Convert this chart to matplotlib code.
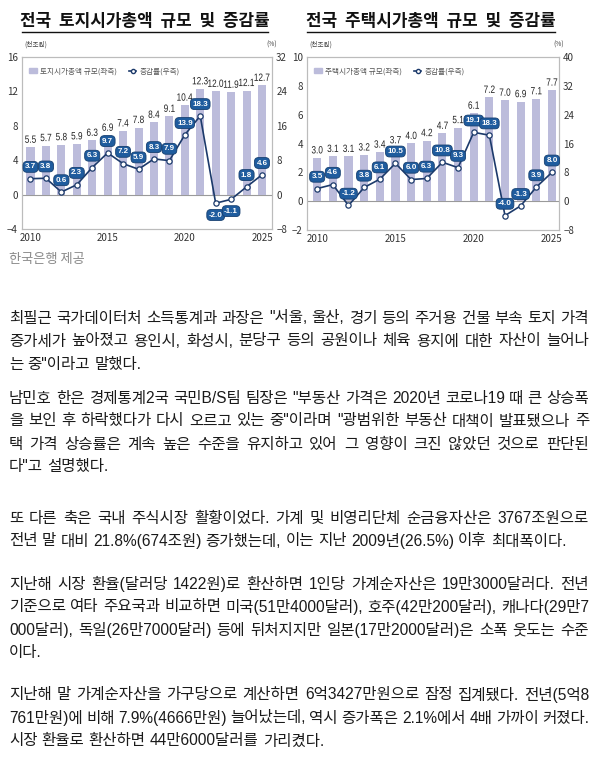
import matplotlib
matplotlib.use('Agg')
import matplotlib.pyplot as plt
import matplotlib.transforms as mtransforms
from matplotlib.lines import Line2D
from matplotlib.patches import Patch, PathPatch
from matplotlib.textpath import TextPath
from matplotlib.font_manager import FontProperties

W, H = 597, 764

# 데이터
years = list(range(2010, 2026))
land_value = [5.5, 5.7, 5.8, 5.9, 6.3, 6.9, 7.4, 7.8, 8.4, 9.1, 10.4, 12.3, 12.0, 11.9, 12.1, 12.7]
land_rate = [3.7, 3.8, 0.6, 2.3, 6.3, 9.7, 7.2, 5.9, 8.3, 7.9, 13.9, 18.3, -2.0, -1.1, 1.8, 4.6]
house_value = [3.0, 3.1, 3.1, 3.2, 3.4, 3.7, 4.0, 4.2, 4.7, 5.1, 6.1, 7.2, 7.0, 6.9, 7.1, 7.7]
house_rate = [3.5, 4.6, -1.2, 3.8, 6.1, 10.5, 6.0, 6.3, 10.8, 9.3, 19.1, 18.3, -4.0, -1.3, 3.9, 8.0]
tick_years = [2010, 2015, 2020, 2025]

land_title = '전국  토지시가총액  규모  및  증감률'
house_title = '전국  주택시가총액  규모  및  증감률'
land_legend = '토지시가총액 규모(좌측)'
house_legend = '주택시가총액 규모(좌측)'
rate_legend = '증감률(우측)'
source = '한국은행 제공'

paragraphs = [
    ['최필근 국가데이터처 소득통계과 과장은 "서울, 울산, 경기 등의 주거용 건물 부속 토지 가격',
     '증가세가 높아졌고 용인시, 화성시, 분당구 등의 공원이나 체육 용지에 대한 자산이 늘어나',
     '는 중"이라고 말했다.'],
    ['남민호 한은 경제통계2국 국민B/S팀 팀장은 "부동산 가격은 2020년 코로나19 때 큰 상승폭',
     '을 보인 후 하락했다가 다시 오르고 있는 중"이라며 "광범위한 부동산 대책이 발표됐으나 주',
     '택 가격 상승률은 계속 높은 수준을 유지하고 있어 그 영향이 크진 않았던 것으로 판단된',
     '다"고 설명했다.'],
    ['또 다른 축은 국내 주식시장 활황이었다. 가계 및 비영리단체 순금융자산은 3767조원으로',
     '전년 말 대비 21.8%(674조원) 증가했는데, 이는 지난 2009년(26.5%) 이후 최대폭이다.'],
    ['지난해 시장 환율(달러당 1422원)로 환산하면 1인당 가계순자산은 19만3000달러다. 전년',
     '기준으로 여타 주요국과 비교하면 미국(51만4000달러), 호주(42만200달러), 캐나다(29만7',
     '000달러), 독일(26만7000달러) 등에 뒤처지지만 일본(17만2000달러)은 소폭 웃도는 수준',
     '이다.'],
    ['지난해 말 가계순자산을 가구당으로 계산하면 6억3427만원으로 잠정 집계됐다. 전년(5억8',
     '761만원)에 비해 7.9%(4666만원) 늘어났는데, 역시 증가폭은 2.1%에서 4배 가까이 커졌다.',
     '시장 환율로 환산하면 44만6000달러를 가리켰다.'],
]
line_y = [[318, 341, 364], [398, 421, 444, 467], [518, 541], [584, 607, 630, 653], [695, 718, 741]]

plt.rcParams['font.family'] = ['Noto Sans CJK KR', 'DejaVu Sans']

fig = plt.figure(figsize=(W / 100, H / 100), dpi=100)
fig.patch.set_facecolor('white')


def fx(px):
    return px / W


def fy(py):
    return 1 - py / H


bar_c = '#bcbcdb'
line_c = '#1c3a6b'
box_c = '#1f5c9e'
num_prop = FontProperties(family='Liberation Sans')


def narrow_label(ax, x, y, s, size, sx=0.78, dy_px=4.5):
    # 막대 위 숫자: 가로로 눌린 글꼴 흉내
    tp = TextPath((0, 0), s, size=size, prop=num_prop)
    bb = tp.get_extents()
    k = fig.dpi / 72
    tr = (mtransforms.Affine2D().translate(-(bb.x0 + bb.x1) / 2, 0).scale(sx * k, k)
          .translate(0, dy_px) + mtransforms.ScaledTranslation(x, y, ax.transData))
    ax.add_patch(PathPatch(tp, transform=tr, fc='#222', ec='none', lw=0, clip_on=False,
                           zorder=3))


def draw_chart(left, right, top, bottom, values, rates, ylim_l, yt_l, ylim_r, yt_r, xlim,
               title, legend_label, neg_below):
    ax = fig.add_axes([fx(left), fy(bottom), (right - left) / W, (bottom - top) / H])
    x = list(range(len(years)))
    ax.bar(x, values, width=0.52, color=bar_c, zorder=2)
    ax.axhline(0, color='#9a9a9a', lw=0.8, zorder=1)
    ax.set_ylim(ylim_l)
    ax.set_yticks(yt_l)
    ax.set_xlim(xlim)
    for i, v in zip(x, values):
        narrow_label(ax, i, v, f'{v:.1f}', 7.6)
    ax.set_xticks([years.index(y) for y in tick_years])
    ax.set_xticklabels([str(y) for y in tick_years])
    ax.tick_params(length=0, labelsize=7, colors='#333', pad=3)
    for s in ax.spines.values():
        s.set_color('#bcbcbc')
        s.set_linewidth(0.8)

    ax2 = ax.twinx()
    ax2.plot(x, rates, color=line_c, lw=1.2, marker='o', ms=3.8, mfc='white', mec=line_c,
             mew=0.9, zorder=4)
    for i, r in zip(x, rates):
        dy = -8.5 if (neg_below and r < 0) else 8.5
        ax2.annotate(f'{r:.1f}', (i, r), xytext=(0, dy), textcoords='offset points',
                     ha='center', va='center', fontsize=5.8, color='white', fontweight='bold',
                     family=['Liberation Sans'],
                     bbox=dict(boxstyle='round,pad=0.24,rounding_size=0.5', fc=box_c,
                               ec='#163f70', lw=0.6), zorder=5)
    ax2.set_ylim(ylim_r)
    ax2.set_yticks(yt_r)
    ax2.tick_params(length=0, labelsize=7, colors='#333', pad=3)
    for s in ax2.spines.values():
        s.set_color('#bcbcbc')
        s.set_linewidth(0.8)

    handles = [Patch(color=bar_c, label=legend_label),
               Line2D([], [], color=line_c, lw=1.2, marker='o', ms=3, mfc='white', mec=line_c,
                      label=rate_legend)]
    ax2.legend(handles=handles, loc='upper left', ncol=2, frameon=False, fontsize=5.5,
               handlelength=1.0, handleheight=0.6, handletextpad=0.4, columnspacing=1.6,
               bbox_to_anchor=(0.0, 0.98), labelcolor='#555')

    cx = (left + right) / 2
    fig.text(fx(cx - 2), fy(21), title, ha='center', va='center', fontsize=12.2,
             fontweight='bold', color='#111')
    fig.add_artist(Line2D([fx(left), fx(right - 4)], [fy(31.5), fy(31.5)], color='#111', lw=1.0))
    fig.text(fx(left + 2), fy(45), '(천조원)', ha='left', va='center', fontsize=4.8, color='#444')
    fig.text(fx(right - 6), fy(45), '(%)', ha='left', va='center', fontsize=4.8, color='#444')


draw_chart(22, 272, 57, 229, land_value, land_rate, (-4, 16), [-4, 0, 4, 8, 12, 16],
           (-8, 32), [-8, 0, 8, 16, 24, 32], (-0.55, 15.65), land_title, land_legend, True)
draw_chart(307, 559, 57, 230, house_value, house_rate, (-2, 10), [-2, 0, 2, 4, 6, 8, 10],
           (-8, 40), [-8, 0, 8, 16, 24, 32, 40], (-0.65, 15.45), house_title, house_legend, False)

fig.text(fx(9), fy(259), source, ha='left', va='center', fontsize=9.5, color='#8a8a8a')

# 본문 (양쪽 정렬)
body_font = ['Liberation Sans', 'Noto Sans CJK KR']
body_size = 11.2
x_left, x_right = 9, 589
renderer = fig.canvas.get_renderer()


def text_width(s):
    t = fig.text(0, 0, s, fontsize=body_size, family=body_font)
    w = t.get_window_extent(renderer=renderer).width
    t.remove()
    return w


space_w = text_width('가 가') - text_width('가가')

for lines, ys in zip(paragraphs, line_y):
    for k, (line, y) in enumerate(zip(lines, ys)):
        words = line.split(' ')
        widths = [text_width(w) for w in words]
        last = (k == len(lines) - 1)
        if last or len(words) < 2:
            gap = space_w
        else:
            gap = (x_right - x_left - sum(widths)) / (len(words) - 1)
        xp = x_left
        for w, wd in zip(words, widths):
            fig.text(fx(xp), fy(y), w, ha='left', va='center', fontsize=body_size,
                     family=body_font, color='#1a1a1a')
            xp += wd + gap

fig.savefig('out.png', dpi=100, facecolor='white')
